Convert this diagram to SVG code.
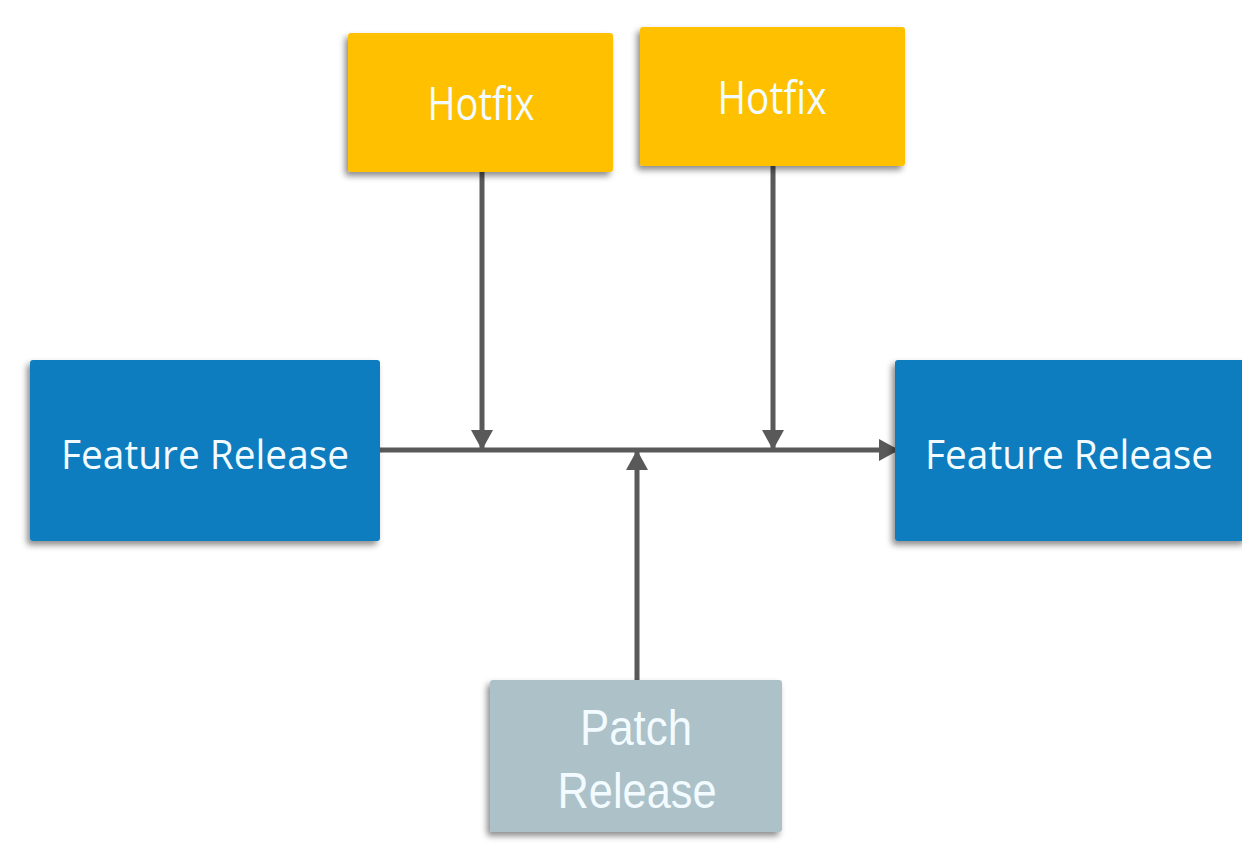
<svg xmlns="http://www.w3.org/2000/svg" width="1242" height="852" viewBox="0 0 1242 852">
<style>
.blue{fill:#0F7DBF}
.yellow{fill:#FFC000}
.gray{fill:#ADC1C8}
.box{filter:url(#sh)}
.t{fill:#F2FBFF;text-anchor:middle}
.fr{font-family:"Open Sans","Noto Sans",sans-serif;font-size:40px}
.hf{font-family:"Open Sans","Noto Sans",sans-serif;font-size:46px}
.pr{font-family:"Liberation Sans",Arial,sans-serif;font-size:50px}
.ln{stroke:#595959;stroke-width:5;fill:none}
</style>
<defs>
<filter id="sh" x="-10%" y="-10%" width="120%" height="130%">
<feDropShadow dx="-3" dy="4" stdDeviation="3" flood-color="#000" flood-opacity="0.45"/>
</filter>
<marker id="ah" viewBox="0 0 10 11" refX="9" refY="5.5" markerWidth="4" markerHeight="4.4" orient="auto" markerUnits="strokeWidth">
<path d="M0,0 L10,5.5 L0,11 Z" fill="#595959"/>
</marker>
</defs>
<rect width="1242" height="852" fill="#fff"/>
<g id="connectors">
<line class="ln" x1="380" y1="450" x2="897" y2="450" marker-end="url(#ah)"/>
<line class="ln" x1="482" y1="172" x2="482" y2="448" marker-end="url(#ah)"/>
<line class="ln" x1="773" y1="166" x2="773" y2="448" marker-end="url(#ah)"/>
<line class="ln" x1="637" y1="682" x2="637" y2="452" marker-end="url(#ah)"/>
</g>
<g id="hotfix1">
<rect class="yellow box" x="348" y="33" width="265" height="139" rx="3"/>
<text class="t hf" x="481" y="120" textLength="107" lengthAdjust="spacingAndGlyphs">Hotfix</text>
</g>
<g id="hotfix2">
<rect class="yellow box" x="640" y="27" width="265" height="139" rx="3"/>
<text class="t hf" x="772" y="114" textLength="109" lengthAdjust="spacingAndGlyphs">Hotfix</text>
</g>
<g id="feature1">
<rect class="blue box" x="30" y="360" width="350" height="181" rx="3"/>
<text class="t fr" x="205" y="469" textLength="288" lengthAdjust="spacingAndGlyphs">Feature Release</text>
</g>
<g id="feature2">
<rect class="blue box" x="895" y="360" width="352" height="181" rx="3"/>
<text class="t fr" x="1069" y="469" textLength="288" lengthAdjust="spacingAndGlyphs">Feature Release</text>
</g>
<g id="patch">
<rect class="gray box" x="490" y="680" width="292" height="152" rx="3"/>
<text class="t pr" x="636" y="745" textLength="112" lengthAdjust="spacingAndGlyphs">Patch</text>
<text class="t pr" x="637" y="808" textLength="159" lengthAdjust="spacingAndGlyphs">Release</text>
</g>
</svg>
